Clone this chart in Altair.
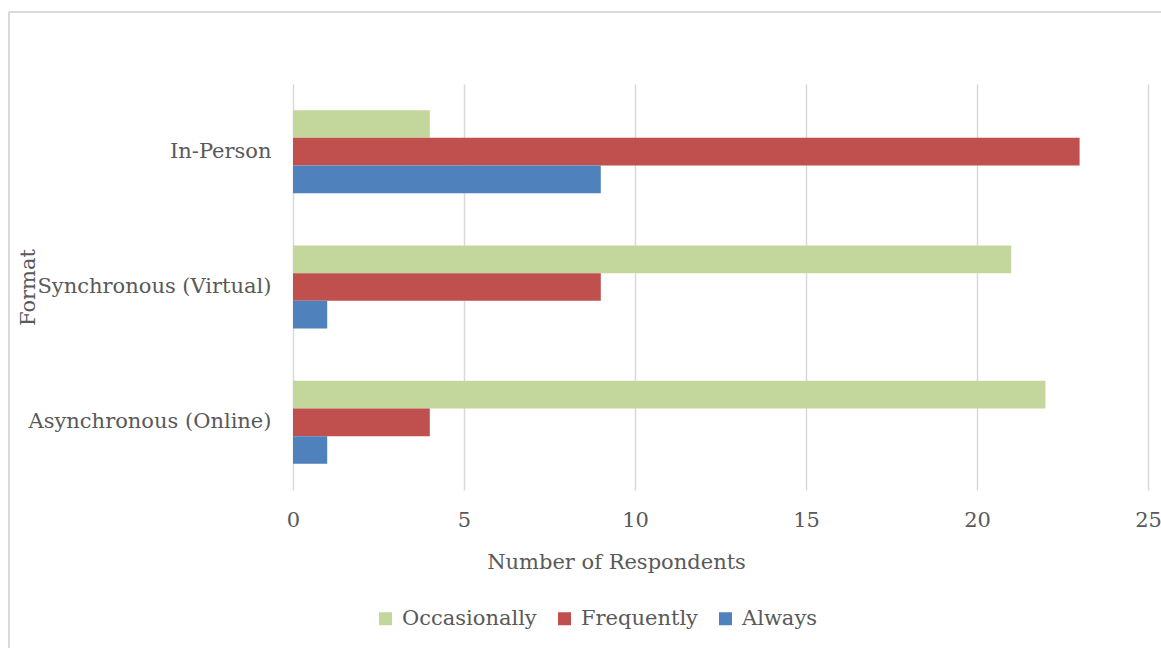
import altair as alt
import pandas as pd

# Survey responses per delivery format
formats = ["In-Person", "Synchronous (Virtual)", "Asynchronous (Online)"]
frequency_levels = ["Occasionally", "Frequently", "Always"]
occasionally = [4, 21, 22]
frequently = [23, 9, 4]
always = [9, 1, 1]
level_colors = ["#c3d69b", "#c0504d", "#4f81bd"]
x_ticks = [0, 5, 10, 15, 20, 25]

rows = []
for level, values in zip(frequency_levels, [occasionally, frequently, always]):
    for fmt, v in zip(formats, values):
        rows.append({"Format": fmt, "Frequency": level, "Respondents": v})
df = pd.DataFrame(rows)

FONT = "DejaVu Serif"
FS = 21
TEXT = "#595959"
GRID = "#d9d9d9"

bars = alt.Chart(df).mark_bar().encode(
    y=alt.Y(
        "Format:N",
        sort=formats,
        scale=alt.Scale(paddingInner=0.387, paddingOuter=0.1935),
        axis=alt.Axis(
            title="Format",
            domain=False,
            ticks=False,
            grid=False,
            labelPadding=22,
            labelLimit=0,
            labelFontSize=FS,
            labelColor=TEXT,
            labelFont=FONT,
            titleFont=FONT,
            titleFontSize=FS,
            titleFontWeight="normal",
            titleColor=TEXT,
            titleX=-259,
            titleY=203,
            titleAlign="center",
            titleBaseline="alphabetic",
        ),
    ),
    yOffset=alt.YOffset("Frequency:N", sort=frequency_levels,
                        scale=alt.Scale(paddingInner=0, paddingOuter=0)),
    x=alt.X(
        "Respondents:Q",
        scale=alt.Scale(domain=[0, 25], nice=False),
        axis=alt.Axis(
            title="Number of Respondents",
            values=x_ticks,
            domain=False,
            ticks=False,
            grid=True,
            gridColor=GRID,
            gridWidth=1.5,
            labelPadding=19,
            labelFlush=False,
            labelOverlap=False,
            labelFontSize=FS,
            labelColor=TEXT,
            labelFont=FONT,
            titleFont=FONT,
            titleFontSize=FS,
            titleFontWeight="normal",
            titleColor=TEXT,
            titleX=323,
            titleY=78,
            titleAlign="center",
            titleBaseline="alphabetic",
        ),
    ),
    color=alt.Color(
        "Frequency:N",
        sort=frequency_levels,
        scale=alt.Scale(domain=frequency_levels, range=level_colors),
        legend=alt.Legend(
            title=None,
            orient="none",
            direction="horizontal",
            legendX=82,
            legendY=524,
            symbolType="square",
            symbolSize=169,
            symbolStrokeWidth=0,
            labelFontSize=FS,
            labelFont=FONT,
            labelColor=TEXT,
            labelOffset=6,
            labelLimit=0,
            columnPadding=17,
            padding=0,
        ),
    ),
)

# Light frame around the whole figure
frame_src = alt.Chart(pd.DataFrame({"k": [0]}))
frame_top = frame_src.mark_rule(color=GRID, strokeWidth=2).encode(
    x=alt.value(-284), x2=alt.value(900), y=alt.value(-72)
)
frame_left = frame_src.mark_rule(color=GRID, strokeWidth=2).encode(
    x=alt.value(-284), y=alt.value(-72), y2=alt.value(600)
)

chart = (
    alt.layer(bars, frame_top, frame_left)
    .properties(
        width=855,
        height=406,
        autosize=alt.AutoSizeParams(type="none"),
        padding={"left": 293, "top": 84, "right": 13, "bottom": 158},
        background="white",
    )
    .configure_view(stroke=None)
)

chart.save("out.html", embed_options={"renderer": "svg", "actions": False})
